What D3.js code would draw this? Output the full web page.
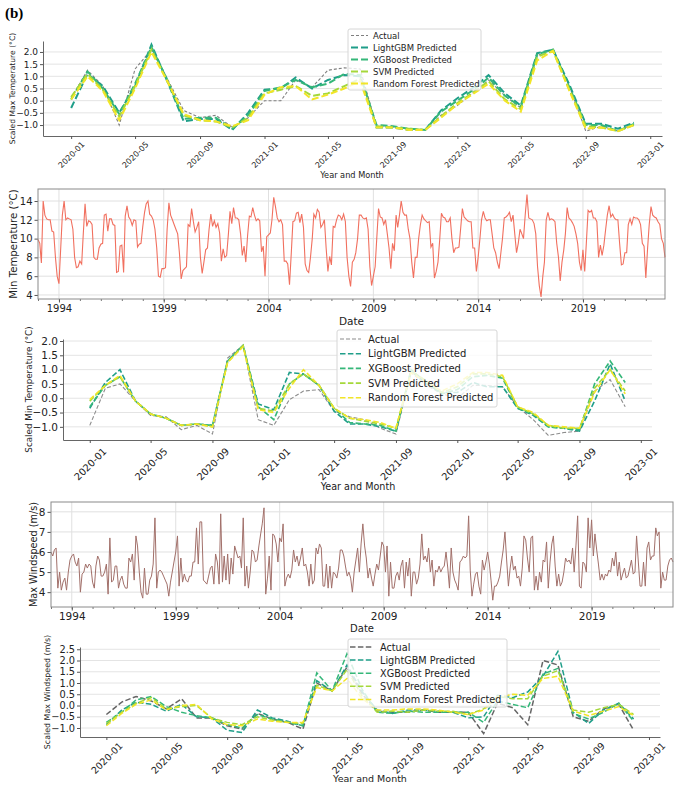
<!DOCTYPE html>
<html>
<head>
<meta charset="utf-8">
<script src="https://cdn.jsdelivr.net/npm/d3@7/dist/d3.min.js"></script>
<style>
  body { margin: 0; background: #fff; }
  svg { display: block; font-family: "DejaVu Sans", sans-serif; }
</style>
</head>
<body>
<svg id="chart" width="685" height="785"></svg>
<script>
// ---------- data ----------
const modelNames = ["Actual", "LightGBM Predicted", "XGBoost Predicted", "SVM Predicted", "Random Forest Predicted"];

// scaled max temperature, monthly 2020-01 .. 2022-12
const maxTempActual = [0.1, 1.25, 0.6, -1.0, 1.3, 2.1, 0.9, -0.4, -0.7, -0.6, -1.1, -0.7,
  0.0, 0.0, 0.85, 0.55, 1.25, 1.35, 1.3, -1.05, -1.1, -1.15, -1.2, -0.6,
  -0.2, 0.35, 0.85, 0.2, -0.3, 1.85, 2.1, 0.6, -1.25, -1.05, -1.25, -0.95];
const maxTempLGBM = [-0.3, 1.1, 0.6, -0.5, 0.6, 2.3, 0.8, -0.85, -0.75, -0.75, -1.2, -0.5,
  0.45, 0.5, 0.95, 0.5, 0.85, 1.05, 1.0, -1.1, -1.1, -1.2, -1.2, -0.4,
  0.1, 0.55, 1.05, 0.3, -0.2, 1.95, 2.1, 0.65, -0.95, -0.95, -1.15, -0.9];
const maxTempXGB = [0.05, 1.2, 0.5, -0.55, 0.7, 2.2, 0.85, -0.75, -0.7, -0.7, -1.15, -0.6,
  0.4, 0.55, 0.85, 0.55, 0.7, 1.1, 1.05, -1.0, -1.05, -1.15, -1.2, -0.45,
  0.0, 0.45, 0.95, 0.2, -0.25, 1.9, 2.1, 0.55, -1.0, -1.0, -1.25, -0.95];
const maxTempSVM = [0.15, 1.1, 0.45, -0.65, 0.6, 2.1, 0.8, -0.6, -0.8, -0.85, -1.1, -0.7,
  0.3, 0.45, 0.6, 0.2, 0.3, 0.6, 0.9, -1.05, -1.1, -1.15, -1.2, -0.65,
  -0.1, 0.35, 0.8, 0.05, -0.35, 1.8, 2.05, 0.45, -1.05, -1.1, -1.25, -1.0];
const maxTempRF = [0.05, 1.0, 0.4, -0.8, 0.5, 2.0, 0.8, -0.55, -0.8, -0.85, -1.05, -0.8,
  0.25, 0.55, 0.6, 0.05, 0.25, 0.5, 0.8, -1.1, -1.1, -1.2, -1.2, -0.7,
  -0.15, 0.3, 0.7, 0.0, -0.45, 1.65, 2.05, 0.4, -1.15, -1.1, -1.25, -1.0];

// scaled min temperature
const minTempActual = [-0.95, 0.35, 0.5, -0.1, -0.6, -0.65, -1.1, -0.95, -1.25, 1.4, 1.85, -0.75,
  -0.95, -0.05, 0.25, 0.3, -0.45, -0.65, -0.75, -1.05, -1.25, 0.9, 0.45, 0.15,
  0.0, 0.45, 0.45, 0.4, -0.3, -0.75, -1.3, -1.2, -1.15, 0.25, 0.65, -0.3];
const minTempLGBM = [-0.35, 0.55, 1.0, -0.1, -0.55, -0.7, -0.95, -0.9, -0.95, 1.3, 1.85, -0.2,
  -0.4, 0.9, 0.85, 0.45, -0.45, -0.9, -0.9, -1.0, -1.15, 0.95, 0.5, 0.2,
  0.2, 0.55, 0.4, 0.4, -0.35, -0.6, -1.0, -1.05, -1.15, -0.1, 1.2, -0.1];
const minTempXGB = [-0.3, 0.45, 0.75, -0.1, -0.55, -0.7, -0.95, -0.9, -0.95, 1.3, 1.85, -0.3,
  -0.75, 0.5, 0.85, 0.45, -0.35, -0.85, -0.9, -0.95, -1.15, 1.0, 0.55, 0.15,
  0.3, 0.75, 0.8, 0.7, -0.35, -0.55, -1.0, -1.05, -1.1, 0.5, 1.3, 0.55];
const minTempSVM = [-0.1, 0.45, 0.75, -0.1, -0.55, -0.7, -0.95, -0.9, -1.0, 1.25, 1.85, -0.35,
  -0.45, 0.5, 0.85, 0.45, -0.35, -0.7, -0.8, -0.9, -1.05, 0.95, 0.6, 0.2,
  0.4, 0.85, 0.85, 0.75, -0.3, -0.55, -0.95, -1.05, -1.05, 0.35, 1.0, 0.25];
const minTempRF = [-0.05, 0.45, 0.8, -0.1, -0.55, -0.7, -0.95, -0.9, -1.0, 1.25, 1.8, -0.4,
  -0.5, 0.35, 1.0, 0.45, -0.35, -0.7, -0.75, -0.85, -1.05, 0.9, 0.55, 0.25,
  0.5, 0.9, 0.9, 0.8, -0.3, -0.5, -0.95, -1.0, -1.05, 0.2, 1.0, 0.15];

// scaled max windspeed
const windActual = [-0.4, 0.15, 0.4, 0.2, -0.15, 0.3, -0.55, -0.55, -0.9, -1.05, -0.35, -0.6,
  -0.75, -1.05, 1.0, 0.65, 1.7, 0.5, -0.25, -0.3, -0.3, -0.2, -0.3, -0.3,
  -0.3, -1.25, 0.1, -0.1, -0.85, 2.0, 1.8, -0.5, -0.7, -0.15, 0.05, -1.1];
const windLGBM = [-0.85, -0.2, 0.15, 0.05, -0.25, 0.05, -0.5, -0.55, -1.1, -1.2, -0.2, -0.55,
  -0.7, -0.9, 1.1, 0.65, 1.8, 0.6, -0.2, -0.35, -0.2, -0.2, -0.25, -0.3,
  -0.55, -0.5, 0.45, 0.35, 0.6, 1.3, 2.4, -0.3, -0.8, -0.2, 0.1, -0.6];
const windXGB = [-0.75, -0.3, 0.25, 0.4, -0.05, -0.3, -0.45, -0.55, -0.85, -1.0, -0.4, -0.6,
  -0.75, -0.9, 1.45, 0.65, 2.3, 0.7, -0.3, -0.35, -0.25, -0.3, -0.3, -0.3,
  -0.3, -0.75, 0.2, 0.05, -0.1, 1.4, 1.65, -0.35, -0.6, -0.3, 0.1, -0.7];
const windSVM = [-0.8, -0.3, 0.1, 0.35, -0.15, -0.05, 0.0, -0.55, -0.75, -0.85, -0.5, -0.65,
  -0.75, -0.8, 0.9, 0.65, 1.6, 0.4, -0.3, -0.25, -0.3, -0.2, -0.25, -0.25,
  -0.4, -0.15, 0.4, 0.3, 0.3, 1.3, 1.55, -0.2, -0.3, -0.1, 0.05, -0.4];
const windRF = [-0.9, -0.35, 0.05, 0.25, -0.2, 0.0, 0.05, -0.6, -0.85, -0.9, -0.6, -0.7,
  -0.75, -0.75, 0.8, 0.65, 1.2, 0.3, -0.2, -0.2, -0.15, -0.15, -0.2, -0.3,
  -0.4, -0.2, 0.35, 0.5, 0.45, 1.2, 1.3, -0.25, -0.45, -0.25, -0.05, -0.45];

// monthly min temperature (°C), 1993-01 .. 2022-12, one row per year
const minTemp = [
  9.9, 9.5, 7.4, 14.0, 12.5, 12.1, 12.0, 12.0, 10.8, 10.7, 8.0, 6.0,
  5.2, 9.0, 12.5, 14.0, 12.0, 12.2, 12.1, 12.0, 11.0, 8.0, 6.9, 7.0,
  7.6, 7.3, 10.5, 13.7, 11.3, 11.9, 11.8, 11.5, 8.0, 7.8, 7.8, 9.0,
  9.4, 9.5, 12.5, 12.6, 10.8, 12.1, 12.1, 11.5, 11.4, 6.4, 6.5, 9.2,
  9.3, 6.4, 12.4, 13.5, 12.3, 12.0, 11.4, 12.0, 11.9, 9.1, 9.4, 9.5,
  11.3, 12.8, 13.7, 14.0, 12.6, 12.4, 12.0, 11.0, 9.0, 6.0, 5.9, 6.8,
  6.8, 6.9, 11.0, 13.8, 12.5, 12.0, 11.5, 11.0, 10.5, 8.5, 5.7, 6.6,
  6.8, 7.0, 11.5, 11.3, 13.2, 11.8, 10.7, 11.2, 11.8, 8.0, 6.3, 7.5,
  8.8, 9.0, 11.0, 12.6, 11.3, 11.9, 11.2, 11.6, 10.6, 7.6, 8.9, 8.0,
  8.2, 10.5, 12.9, 11.6, 13.3, 12.2, 12.2, 12.0, 10.5, 8.2, 9.2, 7.5,
  10.3, 12.4, 12.3, 13.3, 12.5, 11.9, 12.1, 11.9, 8.6, 9.2, 6.0, 10.2,
  10.4, 10.6, 12.0, 14.4, 13.4, 12.2, 11.8, 12.0, 11.5, 7.6, 7.6, 7.3,
  5.1, 8.5, 11.8, 11.9, 12.7, 12.8, 11.7, 12.6, 11.2, 7.3, 6.6, 6.4,
  8.0, 10.0, 12.6, 12.2, 13.1, 12.8, 11.2, 11.5, 12.0, 9.0, 6.5, 8.1,
  7.2, 11.3, 11.2, 12.0, 12.5, 12.4, 12.0, 12.6, 11.8, 8.0, 6.0, 4.9,
  7.5, 7.8, 8.5, 10.0, 12.5, 12.5, 12.2, 12.1, 12.2, 11.0, 7.0, 5.0,
  6.0, 7.0, 10.0, 13.2, 12.3, 12.2, 11.5, 12.0, 10.5, 9.0, 6.8, 9.5,
  8.7, 12.5, 11.2, 12.5, 14.0, 12.8, 12.5, 12.5, 11.0, 10.0, 7.5, 5.8,
  8.0, 8.0, 10.0, 11.5, 12.5, 12.1, 11.9, 11.7, 11.8, 9.1, 9.5, 5.8,
  6.5, 7.5, 9.8, 12.7, 12.3, 12.2, 11.8, 11.8, 12.2, 10.0, 8.5, 9.0,
  9.0, 9.1, 11.0, 13.2, 12.3, 12.1, 11.9, 11.8, 11.8, 9.0, 9.0, 6.5,
  8.0, 10.0, 12.0, 12.9, 12.2, 11.9, 12.0, 12.0, 10.5, 9.0, 8.5, 7.5,
  6.8, 8.5, 10.0, 12.2, 12.3, 12.5, 12.8, 11.8, 12.5, 10.5, 8.5, 9.5,
  11.0, 10.5, 10.0, 12.6, 14.7, 12.2, 12.1, 12.0, 11.6, 10.5, 7.0, 5.0,
  3.8, 6.0, 7.5, 12.0, 12.8, 12.0, 12.1, 12.0, 11.8, 9.5, 8.0, 5.5,
  7.5, 8.8, 10.5, 13.3, 12.2, 12.0, 11.7, 11.3, 10.5, 9.5, 7.5, 6.6,
  8.8, 6.5, 9.5, 13.0, 12.8, 13.0, 12.2, 12.2, 11.8, 8.0, 9.3, 8.2,
  9.3, 11.0, 12.5, 13.5, 12.3, 12.6, 12.2, 12.0, 12.0, 9.5, 7.2, 7.3,
  8.5, 8.5, 11.5, 12.1, 11.5, 12.3, 12.2, 12.2, 12.0, 11.5, 9.5, 9.2,
  5.8, 9.0, 11.5, 13.4, 12.5, 12.3, 12.2, 11.8, 11.5, 10.0, 9.5, 8.0
];

// monthly max windspeed (m/s), 1993-01 .. 2022-12, one row per year
const maxWind = [
  6.0, 5.8, 6.1, 6.2, 4.2, 5.0, 4.1, 4.5, 4.7, 4.1, 5.0, 5.6,
  5.8, 5.9, 5.5, 5.3, 5.7, 4.0, 4.9, 5.0, 5.4, 5.2, 5.4, 5.3,
  4.5, 4.2, 5.3, 5.8, 5.6, 4.8, 4.8, 5.0, 5.4, 3.9, 6.7, 4.5,
  4.6, 5.3, 5.3, 4.2, 4.6, 4.8, 4.4, 4.2, 4.2, 5.7, 5.5, 5.9,
  4.6, 6.8, 6.3, 5.0, 4.0, 3.7, 5.2, 3.9, 3.9, 4.6, 4.8, 5.4,
  7.7, 4.2, 5.0, 5.1, 5.0, 4.8, 4.6, 4.4, 3.8, 4.5, 5.0, 5.5,
  6.0, 6.8, 4.3, 5.7, 4.5, 4.9, 4.6, 4.5, 4.8, 4.8, 5.5, 5.5,
  7.2, 5.4, 7.5, 7.5, 4.6, 4.5, 4.4, 4.8, 5.2, 5.3, 4.4, 5.9,
  5.5, 4.4, 7.9, 4.5, 5.8, 4.6, 5.9, 4.4, 5.7, 4.9, 6.3, 6.0,
  5.7, 5.8, 5.2, 7.7, 4.3, 5.3, 4.2, 5.0, 6.1, 6.0, 5.5, 5.6,
  6.3, 6.9, 7.4, 8.2, 3.9, 4.7, 5.8, 4.1, 6.9, 6.8, 6.4, 5.5,
  6.7, 6.5, 7.4, 4.3, 4.7, 4.9, 4.7, 5.1, 6.1, 5.5, 5.8, 5.3,
  5.7, 6.2, 5.3, 5.4, 5.0, 4.3, 5.4, 4.4, 4.6, 6.2, 5.9, 6.4,
  6.2, 4.3, 4.3, 5.4, 4.2, 5.3, 4.2, 5.0, 4.9, 4.7, 5.2, 6.1,
  6.1, 5.8, 5.3, 4.8, 5.0, 4.7, 4.0, 5.0, 5.6, 6.2, 5.0, 6.4,
  7.4, 6.3, 5.7, 4.7, 5.2, 4.7, 4.3, 4.9, 5.4, 5.1, 5.8, 6.5,
  6.3, 5.0, 6.3, 3.8, 5.5, 4.2, 4.2, 4.8, 5.0, 4.6, 5.3, 5.6,
  4.2, 5.5, 4.8, 5.7, 3.8, 5.0, 5.0, 4.4, 4.7, 5.4, 6.9, 5.6,
  5.8, 5.5, 6.2, 5.0, 5.6, 4.3, 5.1, 5.0, 5.3, 5.0, 5.2, 5.3,
  6.0, 5.2, 4.2, 6.2, 5.0, 4.6, 4.4, 4.1, 5.5, 5.6, 5.8, 5.7,
  5.8, 7.8, 5.1, 3.8, 4.4, 4.9, 5.0, 4.3, 3.9, 5.6, 5.1, 5.5,
  6.0, 5.4, 4.6, 3.6, 4.3, 4.3, 4.5, 4.8, 5.5, 6.1, 7.0, 5.6,
  4.3, 5.2, 5.8, 5.1, 5.3, 4.7, 4.8, 4.3, 5.2, 6.8, 6.6, 5.7,
  5.0, 6.7, 6.8, 4.1, 4.8, 4.1, 5.0, 4.5, 5.6, 5.5, 6.5, 4.2,
  5.5, 6.4, 6.8, 5.3, 4.3, 4.9, 4.3, 4.5, 5.0, 5.7, 5.5, 5.6,
  5.4, 6.2, 5.0, 6.3, 7.8, 4.3, 4.2, 5.5, 5.4, 5.0, 7.7, 6.2,
  7.6, 5.8, 6.9, 6.1, 5.4, 4.6, 4.9, 4.6, 4.9, 4.8, 5.1, 5.0,
  5.7, 5.3, 6.0, 4.8, 5.5, 4.6, 4.9, 5.2, 4.7, 4.8, 5.2, 5.6,
  4.9, 5.0, 6.8, 5.5, 4.3, 4.3, 5.5, 4.3, 6.2, 6.5, 5.6, 5.8,
  5.8, 7.2, 6.8, 7.0, 4.2, 5.0, 4.6, 4.6, 5.3, 5.6, 5.7, 5.5
];

const yearTicks = [1994, 1999, 2004, 2009, 2014, 2019];
const monthsCmp = d3.range(36).map(i => new Date(2020, i, 1));
const monthsLong = d3.range(360).map(i => new Date(1993, i, 1));

const modelColors = ["#7f7f7f", "#1f9e89", "#35b779", "#a5d83a", "#f2e527"];
const FONT = "DejaVu Sans";

const svg = d3.select("#chart");

svg.append("text")
  .attr("x", 5).attr("y", 18)
  .attr("font-family", "Liberation Serif")
  .attr("font-weight", "bold")
  .attr("font-size", 15)
  .text("(b)");

function styleAxis(g, fs) {
  g.attr("font-family", FONT).attr("font-size", fs);
  g.selectAll(".tick line").attr("stroke", "#555");
  g.selectAll(".tick text").attr("fill", "#222");
}

// model comparison panel (scaled values)
function drawCompare(o) {
  const t0 = monthsCmp[0], t1 = monthsCmp[monthsCmp.length - 1];
  const pad = (t1 - t0) * 0.05;
  const x = d3.scaleTime().domain([new Date(+t0 - pad), new Date(+t1 + pad)]).range([o.left, o.right]);
  const y = d3.scaleLinear().domain(o.yDomain).range([o.bottom, o.top]);
  const g = svg.append("g");

  g.selectAll("line.grid").data(o.yTicks).join("line")
    .attr("x1", o.left).attr("x2", o.right)
    .attr("y1", d => y(d)).attr("y2", d => y(d))
    .attr("stroke", "#e4e4e4").attr("stroke-width", 1);

  const ya = g.append("g").attr("transform", `translate(${o.left},0)`)
    .call(d3.axisLeft(y).tickValues(o.yTicks).tickFormat(d3.format(".1f")).tickSize(3).tickSizeOuter(0).tickPadding(2));
  styleAxis(ya, o.tickFont);
  ya.select(".domain").attr("stroke", "#666");

  const xa = g.append("g").attr("transform", `translate(0,${o.bottom})`)
    .call(d3.axisBottom(x).ticks(d3.timeMonth.every(4)).tickFormat(d3.timeFormat("%Y-%m")).tickSize(3).tickSizeOuter(0));
  styleAxis(xa, o.xTickFont);
  xa.select(".domain").attr("stroke", "#666");
  xa.selectAll(".tick text")
    .attr("y", 0).attr("dy", null)
    .attr("text-anchor", "middle").attr("dominant-baseline", "central")
    .attr("transform", `translate(0,${o.labelOff}) rotate(-45)`);

  const line = d3.line().x((d, i) => x(monthsCmp[i])).y(d => y(d));
  o.series.forEach((s, k) => {
    g.append("path").datum(s)
      .attr("fill", "none")
      .attr("stroke", o.colors[k])
      .attr("stroke-width", k === 0 ? o.lwActual : o.lw)
      .attr("stroke-dasharray", k === 0 ? o.dashActual : o.dash)
      .attr("d", line);
  });

  g.append("text")
    .attr("transform", `translate(${o.yLabelX},${(o.top + o.bottom) / 2}) rotate(-90)`)
    .attr("text-anchor", "middle").attr("dominant-baseline", "central")
    .attr("font-family", FONT).attr("font-size", o.yLabelFont).attr("fill", "#222")
    .text(o.yLabel);
  g.append("text")
    .attr("x", o.xLabelX).attr("y", o.xLabelY)
    .attr("text-anchor", "middle").attr("dominant-baseline", "central")
    .attr("font-family", FONT).attr("font-size", o.xLabelFont).attr("fill", "#222")
    .text("Year and Month");

  // legend
  const L = o.legend;
  const lg = g.append("g");
  lg.append("rect")
    .attr("x", L.x).attr("y", L.y).attr("width", L.w).attr("height", L.h)
    .attr("rx", 2).attr("fill", "#fff").attr("fill-opacity", 0.8)
    .attr("stroke", "#d6d6d6");
  modelNames.forEach((name, k) => {
    const ry = L.row0 + L.step * k;
    lg.append("line")
      .attr("x1", L.lx0).attr("x2", L.lx1).attr("y1", ry).attr("y2", ry)
      .attr("stroke", o.colors[k])
      .attr("stroke-width", k === 0 ? o.lwActual : o.lw)
      .attr("stroke-dasharray", k === 0 ? o.dashActual : o.dash);
    lg.append("text")
      .attr("x", L.tx).attr("y", ry)
      .attr("dominant-baseline", "central")
      .attr("font-family", FONT).attr("font-size", L.font).attr("fill", "#222")
      .text(name);
  });
}

// long monthly series panel
function drawSeries(o) {
  const x = d3.scaleTime().domain(d3.extent(monthsLong)).range([o.left, o.right]);
  const y = d3.scaleLinear().domain(o.yDomain).range([o.bottom, o.top]);
  const g = svg.append("g");
  const majors = yearTicks.map(yr => new Date(yr, 0, 1));

  g.selectAll("line.gy").data(o.yTicks).join("line")
    .attr("x1", o.left).attr("x2", o.right)
    .attr("y1", d => y(d)).attr("y2", d => y(d))
    .attr("stroke", "#e0e0e0");
  g.selectAll("line.gx").data(majors).join("line")
    .attr("x1", d => x(d)).attr("x2", d => x(d))
    .attr("y1", o.top).attr("y2", o.bottom)
    .attr("stroke", "#e0e0e0");

  g.append("path").datum(o.values)
    .attr("fill", "none").attr("stroke", o.color).attr("stroke-width", o.lw)
    .attr("d", d3.line().x((d, i) => x(monthsLong[i])).y(d => y(d)));

  const minor = g.append("g").attr("transform", `translate(0,${o.bottom})`)
    .call(d3.axisBottom(x).ticks(d3.timeYear.every(1)).tickFormat("").tickSize(2).tickSizeOuter(0));
  minor.select(".domain").remove();
  minor.selectAll(".tick line").attr("stroke", "#777");

  const xa = g.append("g").attr("transform", `translate(0,${o.bottom})`)
    .call(d3.axisBottom(x).tickValues(majors).tickFormat(d3.timeFormat("%Y")).tickSize(3.5).tickSizeOuter(0).tickPadding(2));
  styleAxis(xa, o.tickFont);
  xa.select(".domain").remove();

  const ya = g.append("g").attr("transform", `translate(${o.left},0)`)
    .call(d3.axisLeft(y).tickValues(o.yTicks).tickFormat(d3.format("d")).tickSize(3.5).tickSizeOuter(0).tickPadding(2));
  styleAxis(ya, o.tickFont);
  ya.select(".domain").remove();

  g.append("rect")
    .attr("x", o.left).attr("y", o.top)
    .attr("width", o.right - o.left).attr("height", o.bottom - o.top)
    .attr("fill", "none").attr("stroke", "#8a8a8a").attr("stroke-width", 1);

  g.append("text")
    .attr("transform", `translate(${o.yLabelX},${(o.top + o.bottom) / 2}) rotate(-90)`)
    .attr("text-anchor", "middle").attr("dominant-baseline", "central")
    .attr("font-family", FONT).attr("font-size", o.yLabelFont).attr("fill", "#222")
    .text(o.yLabel);
  g.append("text")
    .attr("x", (o.left + o.right) / 2).attr("y", o.xLabelY)
    .attr("text-anchor", "middle").attr("dominant-baseline", "central")
    .attr("font-family", FONT).attr("font-size", o.xLabelFont).attr("fill", "#222")
    .text("Date");
}

// panel 1: scaled max temperature
drawCompare({
  left: 43, right: 662, top: 41, bottom: 136,
  yDomain: [-1.45, 2.45], yTicks: [-1.0, -0.5, 0.0, 0.5, 1.0, 1.5, 2.0],
  series: [maxTempActual, maxTempLGBM, maxTempXGB, maxTempSVM, maxTempRF],
  colors: modelColors,
  lw: 2, dash: "7,3", lwActual: 1.1, dashActual: "3,2",
  tickFont: 9, xTickFont: 8, labelOff: 19,
  yLabel: "Scaled Max Temperature (°C)", yLabelX: 12, yLabelFont: 7.6,
  xLabelX: 352, xLabelY: 175, xLabelFont: 8.2,
  legend: { x: 348, y: 29, w: 133, h: 61, row0: 35.5, step: 12, lx0: 351, lx1: 368, tx: 373, font: 8.5 }
});

// panel 2: min temperature series
drawSeries({
  left: 38, right: 665, top: 189, bottom: 299,
  yDomain: [3.57, 15.28], yTicks: [4, 6, 8, 10, 12, 14],
  values: minTemp, color: "#f1705f", lw: 1.1,
  tickFont: 10, yLabel: "Min Temperature (°C)", yLabelX: 13, yLabelFont: 10.2,
  xLabelY: 321, xLabelFont: 10.5
});

// panel 3: scaled min temperature
drawCompare({
  left: 63, right: 652, top: 339, bottom: 440,
  yDomain: [-1.46, 2.07], yTicks: [-1.0, -0.5, 0.0, 0.5, 1.0, 1.5, 2.0],
  series: [minTempActual, minTempLGBM, minTempXGB, minTempSVM, minTempRF],
  colors: ["#8c8c8c", modelColors[1], modelColors[2], modelColors[3], modelColors[4]],
  lw: 1.6, dash: "5.5,2.4", lwActual: 1.1, dashActual: "4,2",
  tickFont: 10.5, xTickFont: 9.8, labelOff: 24,
  yLabel: "Scaled Min Temperature (°C)", yLabelX: 29, yLabelFont: 8.8,
  xLabelX: 358, xLabelY: 486, xLabelFont: 9.6,
  legend: { x: 337, y: 330, w: 160, h: 77, row0: 339, step: 14.7, lx0: 340, lx1: 361, tx: 368, font: 10 }
});

// panel 4: max windspeed series
drawSeries({
  left: 51, right: 673, top: 502, bottom: 607,
  yDomain: [3.26, 8.49], yTicks: [4, 5, 6, 7, 8],
  values: maxWind, color: "#a2706a", lw: 1,
  tickFont: 10.5, yLabel: "Max Windspeed (m/s)", yLabelX: 33, yLabelFont: 9.7,
  xLabelY: 628, xLabelFont: 10
});

// panel 5: scaled max windspeed
drawCompare({
  left: 80, right: 660, top: 647, bottom: 737,
  yDomain: [-1.4, 2.6], yTicks: [-1.0, -0.5, 0.0, 0.5, 1.0, 1.5, 2.0, 2.5],
  series: [windActual, windLGBM, windXGB, windSVM, windRF],
  colors: ["#666666", modelColors[1], modelColors[2], modelColors[3], modelColors[4]],
  lw: 1.5, dash: "5.5,2.4", lwActual: 1.5, dashActual: "5.5,2.4",
  tickFont: 9.8, xTickFont: 9.5, labelOff: 21,
  yLabel: "Scaled Max Windspeed (m/s)", yLabelX: 47, yLabelFont: 7.9,
  xLabelX: 370, xLabelY: 778, xLabelFont: 9.5,
  legend: { x: 348, y: 639, w: 159, h: 68, row0: 647, step: 13.1, lx0: 350, lx1: 373, tx: 380, font: 9.7 }
});
</script>
</body>
</html>
